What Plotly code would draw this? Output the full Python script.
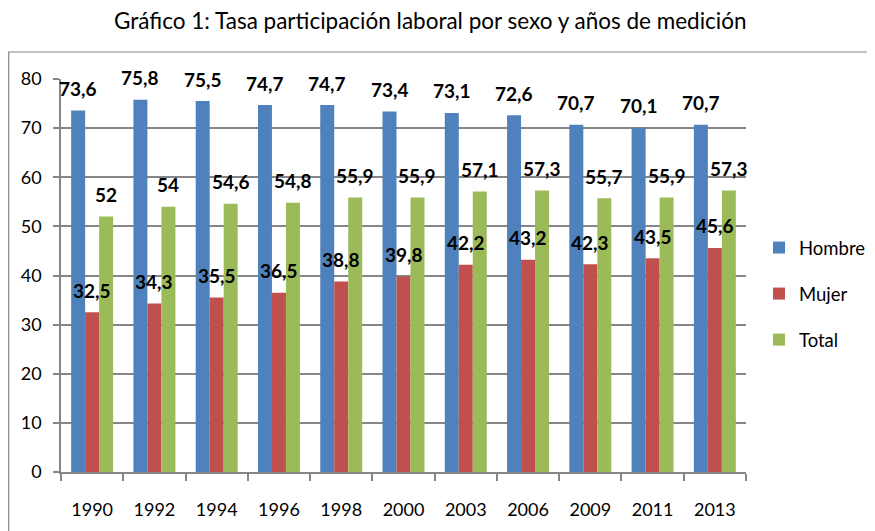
import plotly.graph_objects as go

years = ["1990", "1992", "1994", "1996", "1998", "2000", "2003", "2006", "2009", "2011", "2013"]
hombre = [73.6, 75.8, 75.5, 74.7, 74.7, 73.4, 73.1, 72.6, 70.7, 70.1, 70.7]
mujer = [32.5, 34.3, 35.5, 36.5, 38.8, 39.8, 42.2, 43.2, 42.3, 43.5, 45.6]
total = [52, 54, 54.6, 54.8, 55.9, 55.9, 57.1, 57.3, 55.7, 55.9, 57.3]
series_names = ["Hombre", "Mujer", "Total"]
colors = ["#4F81BD", "#C0504D", "#9BBB59"]
title_text = "Gráfico 1: Tasa participación laboral por sexo y años de medición"

W, H = 875, 531
OFF = 8  # page body margin offset
# plot area in screen pixels
SX0, SX1, SY0, SY1 = 61, 746, 79, 472
L = SX0 - OFF
T = SY0 - OFF
pw = SX1 - SX0
ph = SY1 - SY0
R = W - L - pw
B = H - T - ph

def px(x):
    return (x - SX0) / pw

def py(y):
    return (SY1 - y) / ph

def fmt(v):
    s = ("%g" % v)
    return s.replace(".", ",")

fig = go.Figure()
all_series = [hombre, mujer, total]
for i, (name, vals, col) in enumerate(zip(series_names, all_series, colors)):
    fig.add_trace(go.Bar(
        x=years, y=vals, name=name, legendgroup=name,
        marker=dict(color=col, line=dict(width=0)),
    ))

bargap = 0.326
cat_w = pw / len(years)
bar_w = cat_w * (1 - bargap) / 3
annotations = []
for i, vals in enumerate(all_series):
    for j, v in enumerate(vals):
        annotations.append(dict(
            x=j, y=v, xref="x", yref="y", text="<b>" + fmt(v) + "</b>",
            showarrow=False, xshift=(i - 1) * bar_w, yshift=22, yanchor="middle",
            font=dict(family="Lato", size=19, color="#000000"),
        ))

annotations.append(dict(
    x=px(430), y=py(21), xref="paper", yref="paper",
    text=title_text, showarrow=False, xanchor="center", yanchor="middle",
    borderpad=0, font=dict(family="Lato", size=22.5, color="#000000"),
))

fig.update_layout(
    width=W, height=H,
    margin=dict(l=L, r=R, t=T, b=B, pad=0, autoexpand=False),
    paper_bgcolor="white", plot_bgcolor="white",
    barmode="group", bargap=bargap, bargroupgap=0,
    font=dict(family="Lato", size=17, color="#000000"),
    showlegend=True,
    legend=dict(
        x=px(759), xanchor="left",
        y=py(294), yanchor="middle",
        font=dict(family="Lato", size=18.5, color="#000000"),
        tracegroupgap=19, bgcolor="rgba(0,0,0,0)",
    ),
    annotations=annotations,
    shapes=[dict(
        type="rect", xref="paper", yref="paper",
        x0=px(8.7), x1=px(890),
        y0=py(545), y1=py(52),
        line=dict(color="#868686", width=1.2), fillcolor="rgba(0,0,0,0)", layer="below",
    )],
)

fig.update_xaxes(
    type="category", range=[-0.5, len(years) - 0.5], showline=True, linecolor="#868686", linewidth=1.5,
    ticks="outside", tickson="boundaries", ticklen=7, tickcolor="#868686", tickwidth=1.5,
    showgrid=False, tickfont=dict(family="Lato", size=18), ticklabelstandoff=21, tickangle=0,
    automargin=False,
)
fig.update_yaxes(
    range=[0, 80], dtick=10, showline=True, linecolor="#868686", linewidth=1.5,
    ticks="outside", ticklen=6, tickcolor="#868686", tickwidth=1.5,
    showgrid=True, gridcolor="#868686", gridwidth=1.5, zeroline=False,
    tickfont=dict(family="Lato", size=18), ticklabelstandoff=8, automargin=False,
)

fig.write_html("out.html")
